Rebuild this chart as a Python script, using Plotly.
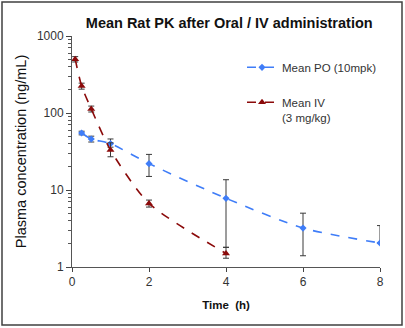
import plotly.graph_objects as go

# PO data
po_time = [0.25, 0.5, 1, 2, 4, 6, 8]
po_mean = [55, 46, 40, 22, 7.8, 3.2, 2.05]
po_err_plus = [3, 4, 6, 7, 5.8, 1.8, 1.4]
po_err_minus = [3, 4, 4, 7, 6.0, 1.8, 0]

# IV data
iv_time = [0.083, 0.25, 0.5, 1, 2, 4]
iv_mean = [500, 224, 113, 33, 6.7, 1.5]
iv_err_plus = [40, 20, 10, 8, 0.7, 0.3]
iv_err_minus = [40, 20, 10, 6, 0.7, 0.2]

W, H = 405, 328
ml, mr, mt, mb = 72, 25, 36, 61

fig = go.Figure()
fig.add_trace(go.Scatter(
    x=po_time, y=po_mean, name="Mean PO (10mpk)", legendgroup="po",
    mode="lines+markers",
    line=dict(color="#3F7DF8", width=1.6, dash="dash", shape="spline", smoothing=0.7),
    marker=dict(symbol="diamond", size=5.5, color="#3F7DF8"),
    error_y=dict(type="data", array=po_err_plus, arrayminus=po_err_minus,
                 color="#3a3a3a", thickness=1, width=3),
))
fig.add_trace(go.Scatter(
    x=iv_time, y=iv_mean, name="Mean IV<br>(3 mg/kg)", legendgroup="iv",
    mode="lines+markers",
    line=dict(color="#8B0A0A", width=1.6, dash="dash", shape="spline", smoothing=0.7),
    marker=dict(symbol="triangle-up", size=7, color="#8B0A0A"),
    error_y=dict(type="data", array=iv_err_plus, arrayminus=iv_err_minus,
                 color="#3a3a3a", thickness=1, width=3),
))

pw = W - ml - mr
ph = H - mt - mb
fig.add_shape(type="rect", xref="paper", yref="paper",
              x0=-(ml - 2) / pw, x1=1 + (mr - 3) / pw,
              y0=-(mb - 3) / ph, y1=1 + (mt - 2) / ph,
              line=dict(color="#404040", width=1.5), layer="below")

fig.update_layout(
    width=W, height=H,
    margin=dict(l=ml, r=mr, t=mt, b=mb),
    paper_bgcolor="white", plot_bgcolor="white",
    font=dict(family="Liberation Sans, Arial, sans-serif", size=12, color="#222"),
    title=dict(text="<b>Mean Rat PK after Oral / IV administration</b>",
               x=0.566, xanchor="center", xref="container",
               y=0.93, yanchor="middle",
               font=dict(size=14.5, color="#111")),
    showlegend=True,
    legend=dict(x=0.552, y=0.925, xanchor="left", yanchor="top", valign="top",
                bgcolor="rgba(0,0,0,0)", font=dict(size=11.5, color="#333"),
                traceorder="grouped", tracegroupgap=16, itemwidth=30),
    xaxis=dict(range=[0, 8], tickvals=[0, 2, 4, 6, 8], ticks="outside",
               ticklen=4, showline=True, linecolor="#555", linewidth=1,
               showgrid=False, zeroline=False,
               tickfont=dict(size=12, color="#333"),
               title=dict(text="<b>Time  (h)</b>", font=dict(size=11.5, color="#111"),
                          standoff=12)),
    yaxis=dict(type="log", range=[0, 3], tickvals=[1, 10, 100, 1000],
               ticktext=["1", "10", "100", "1000"], ticks="outside", ticklen=5,
               showline=True, linecolor="#555", linewidth=1, showgrid=False,
               zeroline=False, tickfont=dict(size=12, color="#333"),
               minor=dict(ticks="outside", ticklen=3, tickcolor="#555",
                          tickvals=[v * d for d in [1, 10, 100] for v in range(2, 10)]),
               title=dict(text="Plasma concentration (ng/mL)",
                          font=dict(size=14.5, color="#111"), standoff=6)),
)
fig.write_html("out.html")
